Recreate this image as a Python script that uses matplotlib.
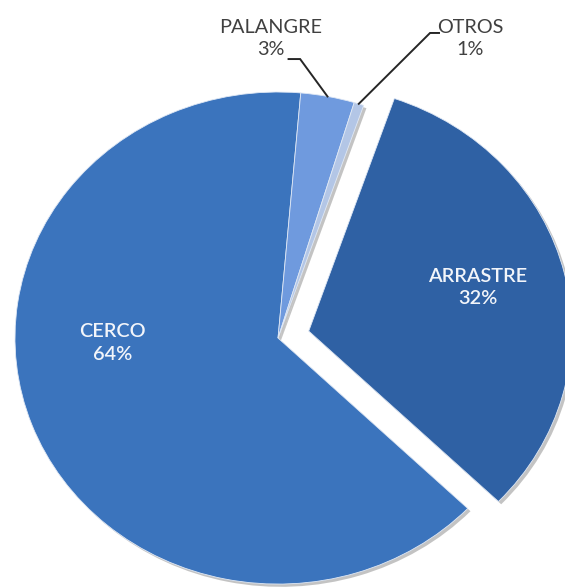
import matplotlib.pyplot as plt
import matplotlib.patheffects as pe

# share of catch by fishing gear (%)
gears = ['ARRASTRE', 'CERCO', 'PALANGRE', 'OTROS']
shares = [31.9, 64.2, 3.3, 0.6]
pct_labels = ['32%', '64%', '3%', '1%']
colors = ['#2f61a4', '#3b74bd', '#6f9ade', '#b3c6e6']

plt.rcParams['font.family'] = ['Lato', 'DejaVu Sans']

fig = plt.figure(figsize=(5.65, 5.88), dpi=100)
ax = fig.add_axes([0, 0, 1, 1])

wedges, _ = ax.pie(shares, colors=colors, startangle=71, counterclock=False,
                   explode=[0.12, 0, 0, 0], radius=1.0,
                   wedgeprops=dict(edgecolor='#dfe8f5', linewidth=0.6))
for w in wedges:
    w.set_path_effects([pe.SimplePatchShadow(offset=(2, -2), alpha=0.35, shadow_rgbFace='#555555'),
                        pe.Normal()])

# slightly stretched like the original (wider than tall)
ax.set_aspect('auto')
ax.set_xlim(-1.057, 1.091)
ax.set_ylim(-1.016, 1.374)
ax.axis('off')

fs = 14.3
# labels inside the big slices
ax.text(0.76, 0.205, gears[0] + '\n' + pct_labels[0], ha='center', va='center',
        color='#f2f5fa', fontsize=fs, linespacing=1.4, fontweight='semibold')
ax.text(-0.63, -0.02, gears[1] + '\n' + pct_labels[1], ha='center', va='center',
        color='#f2f5fa', fontsize=fs, linespacing=1.4, fontweight='semibold')

# outside labels with leader lines
ax.text(-0.027, 1.217, gears[2] + '\n' + pct_labels[2], ha='center', va='center',
        color='#404040', fontsize=fs, linespacing=1.4)
ax.plot([0.188, 0.084, 0.040], [0.982, 1.134, 1.134], color='#262626', lw=1.4,
        solid_joinstyle='miter')

ax.text(0.73, 1.217, gears[3] + '\n' + pct_labels[3], ha='center', va='center',
        color='#404040', fontsize=fs, linespacing=1.4)
ax.plot([0.307, 0.578, 0.612], [0.952, 1.24, 1.24], color='#262626', lw=1.4,
        solid_joinstyle='miter')

fig.savefig('out.png', dpi=100)
